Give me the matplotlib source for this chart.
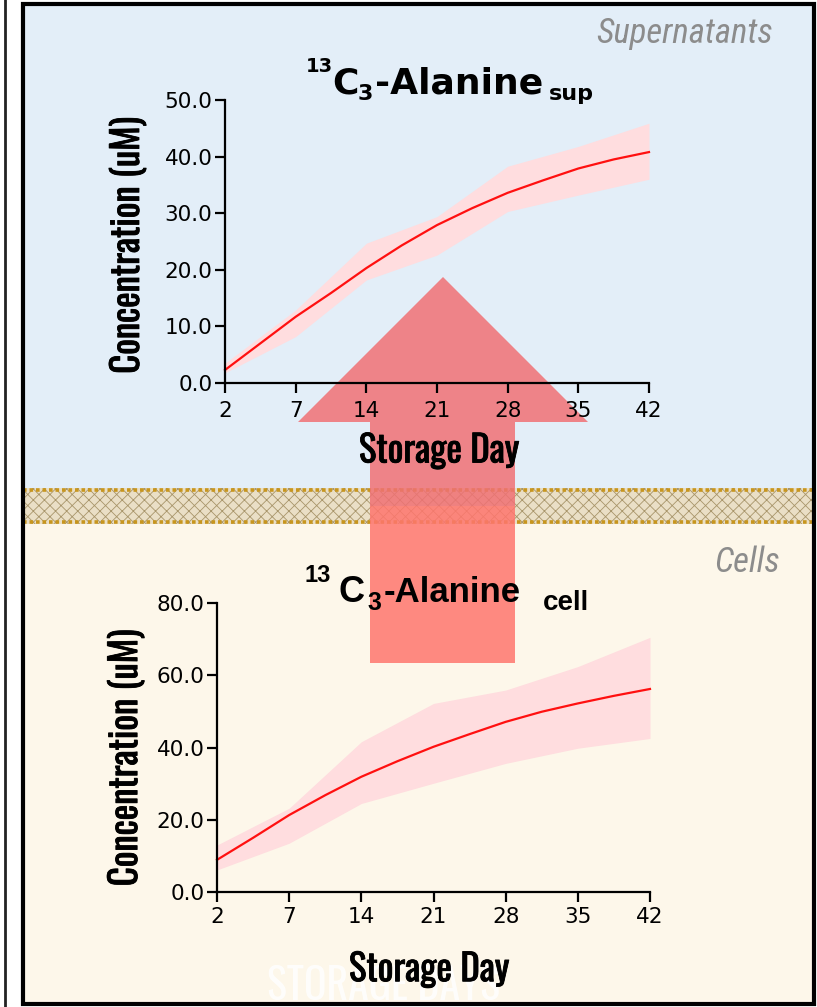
import numpy as np
import matplotlib.pyplot as plt
import matplotlib.patheffects as pe
from matplotlib import font_manager
from matplotlib.patches import Rectangle, Polygon

# storage days (evenly spaced categories on the x axis)
days = [2, 7, 14, 21, 28, 35, 42]

# supernatant: fitted curve read at every half tick, band read at ticks
sup_fit = [2.3, 7.0, 11.7, 15.9, 20.3, 24.3, 27.9, 30.9, 33.6, 35.8, 37.9, 39.5, 40.8]
sup_lo = [1.8, 8.2, 18.2, 22.6, 30.3, 33.2, 36.0]
sup_hi = [3.5, 12.9, 24.7, 29.4, 38.3, 41.8, 45.9]
sup_yticks = [0, 10, 20, 30, 40, 50]

# cells
cell_fit = [8.9, 15.0, 21.3, 26.8, 31.9, 36.2, 40.2, 43.7, 47.1, 49.9, 52.2, 54.3, 56.2]
cell_lo = [6.1, 13.5, 24.5, 30.1, 35.6, 39.8, 42.5]
cell_hi = [13.0, 23.2, 41.6, 52.2, 55.9, 62.4, 70.5]
cell_yticks = [0, 20, 40, 60, 80]

W, H = 817, 1007
BLUE = '#E3EEF8'
CREAM = '#FDF7EA'
LINE_RED = '#FF1010'
BAND_PINK = '#FFDDDF'

names = {f.name for f in font_manager.fontManager.ttflist}


def pick(*cands):
    for c in cands:
        if c in names:
            return c
    return 'DejaVu Sans'


cond = pick('Oswald', 'Roboto Condensed', 'Archivo Narrow', 'PT Sans Narrow')
cond_it = pick('Roboto Condensed', 'Archivo Narrow', 'Oswald')
lab_size = 19 if cond == 'DejaVu Sans' else 26.5
heavy = [pe.withStroke(linewidth=0.6, foreground='black')]

fig = plt.figure(figsize=(W / 100, H / 100), dpi=100)

# background panel drawn in pixel coordinates
bg = fig.add_axes([0, 0, 1, 1])
bg.set_xlim(0, W)
bg.set_ylim(H, 0)
bg.axis('off')

bg.add_patch(Rectangle((23, 4), 790, 484, color=BLUE, lw=0, zorder=1))
bg.add_patch(Rectangle((23, 524), 790, 480, color=CREAM, lw=0, zorder=1))
plt.rcParams['hatch.linewidth'] = 0.6
bg.add_patch(Rectangle((23, 488), 790, 36, facecolor='#EADFC6', edgecolor='#A8956A',
                       hatch='xxx', lw=0, zorder=1))
for yy in (490, 522):
    bg.plot([23, 813], [yy, yy], color='#C8961E', lw=2.6, ls=(0, (1, 0.8)), zorder=2)
bg.add_patch(Rectangle((23, 3.5), 791, 1000.5, fill=False, ec='black', lw=3, zorder=6))
bg.plot([5, 5], [0, H], color='#222222', lw=2, zorder=6)

# the big transfer arrow from cells to supernatant
arrow_top = [(370, 506), (370, 422), (298, 422), (443, 277), (588, 422), (515, 422), (515, 506)]
arrow_bot = [(370, 506), (370, 663), (515, 663), (515, 506)]
bg.add_patch(Polygon(arrow_top, closed=True, facecolor='#F07174', alpha=0.85, lw=0, zorder=3))
bg.add_patch(Polygon(arrow_bot, closed=True, facecolor='#FF766E', alpha=0.85, lw=0, zorder=3))

# compartment labels
bg.text(773, 43, 'Supernatants', family=cond_it, style='italic', fontsize=25,
        color='#8C8C8C', ha='right', va='baseline', zorder=4)
bg.text(780, 572, 'Cells', family=cond_it, style='italic', fontsize=25,
        color='#8C8C8C', ha='right', va='baseline', zorder=4)
bg.text(267, 1000, 'STORAGE DAYS', family=cond, fontsize=30, color='white', alpha=0.85,
        va='baseline', zorder=4)

# titles
tk = dict(family='DejaVu Sans', weight='bold', va='baseline', zorder=5)
bg.text(306, 72, '13', fontsize=14, **tk)
bg.text(332, 93, 'C', fontsize=26, **tk)
bg.text(358, 100, '3', fontsize=16, **tk)
bg.text(375, 93, '-Alanine', fontsize=26, **tk)
bg.text(549, 100, 'sup', fontsize=16, **tk)

tk = dict(family='Liberation Sans', weight='bold', va='baseline', zorder=5)
bg.text(305, 582, '13', fontsize=17, **tk)
bg.text(339, 602, 'C', fontsize=26, **tk)
bg.text(367, 610, '3', fontsize=18, **tk)
bg.text(384, 602, '-Alanine', fontsize=25, **tk)
bg.text(543, 610, 'cell', fontsize=20, **tk)


def panel(rect, fit, lo, hi, yticks, label_xy, xlabel_xy, xpad):
    ax = fig.add_axes(rect)
    ax.set_facecolor('none')
    pos = np.arange(len(days))
    fpos = np.arange(len(fit)) / 2
    ax.fill_between(pos, lo, hi, color=BAND_PINK, lw=0, clip_on=False)
    ax.plot(fpos, fit, color=LINE_RED, lw=1.6, clip_on=False)
    ax.set_xlim(0, len(days) - 1)
    ax.set_ylim(yticks[0], yticks[-1])
    ax.set_xticks(pos, [str(d) for d in days])
    ax.set_yticks(yticks, ['%.1f' % v for v in yticks])
    for s in ('top', 'right'):
        ax.spines[s].set_visible(False)
    for s in ('left', 'bottom'):
        ax.spines[s].set_linewidth(1.6)
    ax.tick_params(axis='both', length=7, width=1.6, labelsize=15.5, colors='black')
    ax.tick_params(axis='x', pad=xpad)
    ax.tick_params(axis='y', pad=2)
    ax.set_ylabel('Concentration (uM)', family=cond, fontsize=lab_size, path_effects=heavy)
    ax.set_xlabel('Storage Day', family=cond, fontsize=lab_size, path_effects=heavy)
    ax.yaxis.set_label_coords(*label_xy)
    ax.xaxis.set_label_coords(*xlabel_xy)
    return ax


panel([225 / W, 1 - 383 / H, 424 / W, 283 / H], sup_fit, sup_lo, sup_hi, sup_yticks,
      (-0.184, 0.486), (0.505, -0.175), 6)
panel([217 / W, 1 - 892 / H, 433 / W, 289 / H], cell_fit, cell_lo, cell_hi, cell_yticks,
      (-0.166, 0.464), (0.49, -0.205), 4)

fig.savefig('out.png', dpi=100)
